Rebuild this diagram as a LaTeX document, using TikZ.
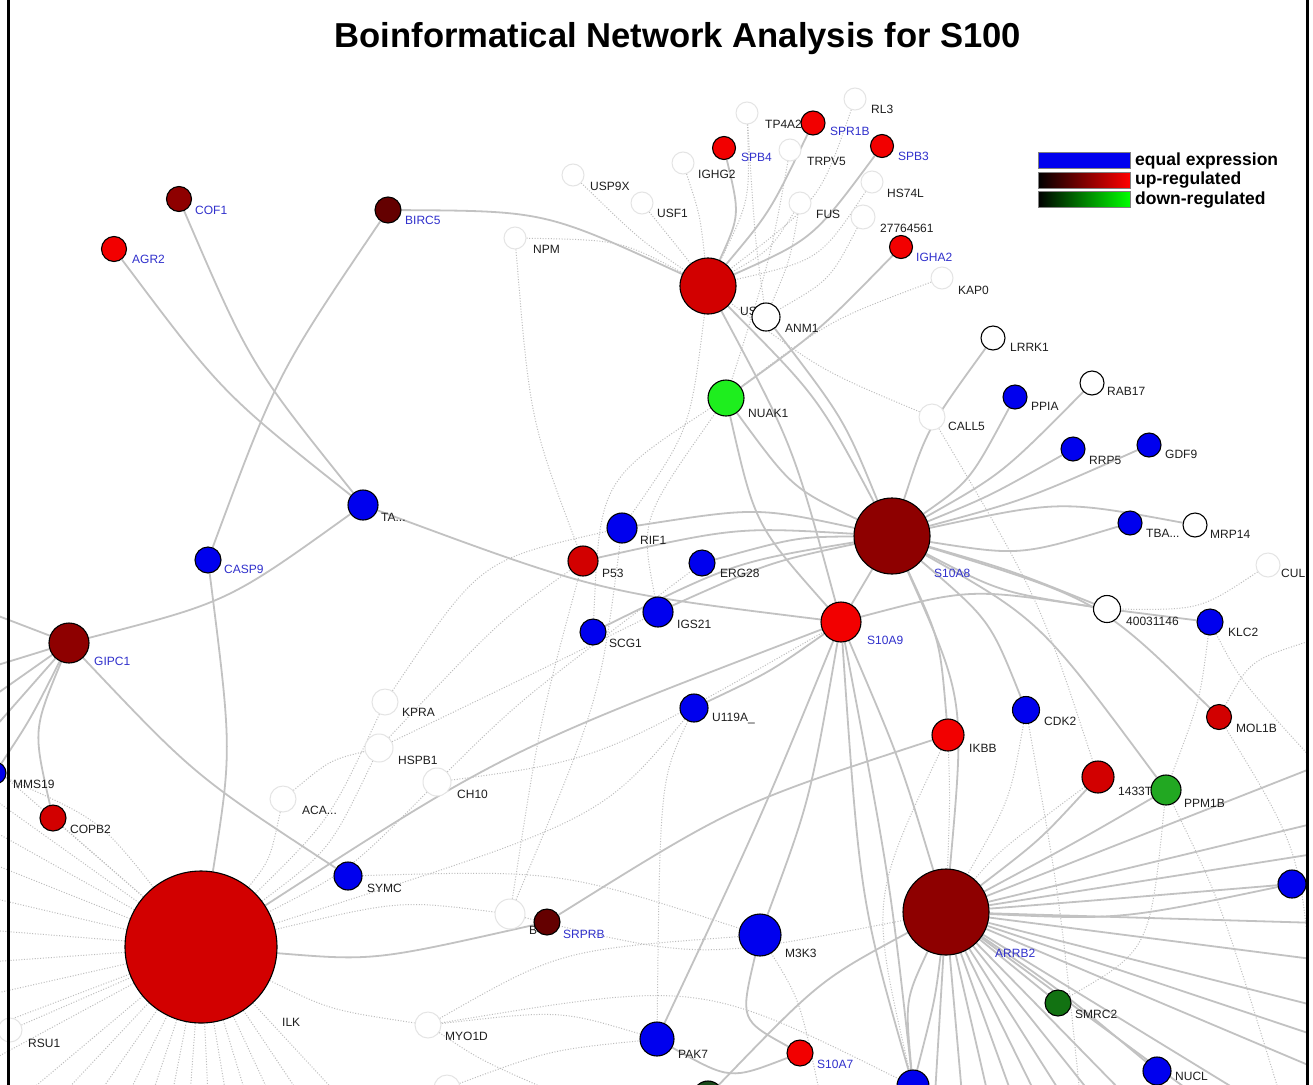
\documentclass[tikz,border=0pt]{standalone}
\usepackage{fontspec}
\setmainfont{Liberation Sans}
\usetikzlibrary{backgrounds}
\definecolor{cRed}{HTML}{F20000}
\definecolor{cRedB}{HTML}{D20000}
\definecolor{cDark}{HTML}{8E0000}
\definecolor{cDarker}{HTML}{640000}
\definecolor{cBlue}{HTML}{0000EE}
\definecolor{cGreen}{HTML}{1EEE1E}
\definecolor{cGreenM}{HTML}{22A822}
\definecolor{cGreenD}{HTML}{127212}
\definecolor{cGreenX}{HTML}{1A4A1A}
\definecolor{edgec}{HTML}{C2C2C2}
\definecolor{dotc}{HTML}{BDBDBD}
\definecolor{ghostc}{HTML}{E4E4E4}
\definecolor{lblc}{HTML}{1E1E1E}
\definecolor{lblue}{HTML}{3030CC}
\newcommand{\lbfont}{\fontsize{12}{13}\selectfont}
\begin{document}
\begin{tikzpicture}[x=1pt,y=-1pt,
  nd/.style 2 args={circle, draw=black, line width=1.1pt, fill=#2, minimum size=#1, inner sep=0pt},
  gh/.style={circle, draw=ghostc, line width=1pt, fill=white, minimum size=#1, inner sep=0pt},
  lb/.style={anchor=west, inner sep=0pt, font=\lbfont, text=lblc},
  bl/.style={lb, text=lblue},
  se/.style={draw=edgec, line width=1.8pt},
  de/.style={draw=dotc, line width=1pt, dash pattern=on 1pt off 1.7pt},
  lgbar/.style={rectangle, draw=gray, line width=0.6pt, minimum width=92pt, minimum height=16pt, inner sep=0pt},
  lgtxt/.style={anchor=base west, inner sep=0pt, font=\fontsize{17.5}{19}\selectfont\bfseries}]
\useasboundingbox (0,0) rectangle (1313,1084);

\begin{scope}
\clip (0,0) rectangle (1306,1084);
% ---------------- labels ----------------
\node[lb] (ltp4a2) at (765,124) {TP4A2};
\node[bl] (lspr1b) at (830,131) {SPR1B};
\node[lb] (lrl3) at (871,109) {RL3};
\node[bl] (lspb4) at (741,157) {SPB4};
\node[lb] (ltrpv5) at (807,161) {TRPV5};
\node[bl] (lspb3) at (898,156) {SPB3};
\node[lb] (lighg2) at (698,174) {IGHG2};
\node[lb] (lusp9x) at (590,186) {USP9X};
\node[lb] (lusf1) at (657,213) {USF1};
\node[lb] (lfus) at (816,214) {FUS};
\node[lb] (lhs74l) at (887,193) {HS74L};
\node[lb] (lg2776) at (880,228) {27764561};
\node[bl] (ligha2) at (916,257) {IGHA2};
\node[lb] (lkap0) at (958,290) {KAP0};
\node[lb] (lnpm) at (533,249) {NPM};
\node[lb] (lus) at (740,311) {US...};
\node[lb] (lanm1) at (785,328) {ANM1};
\node[lb] (lnuak1) at (748,413) {NUAK1};
\node[lb] (llrrk1) at (1010,347) {LRRK1};
\node[lb] (lcall5) at (948,426) {CALL5};
\node[lb] (lppia) at (1031,406) {PPIA};
\node[lb] (lrab17) at (1107,391) {RAB17};
\node[lb] (lrrp5) at (1089,460) {RRP5};
\node[lb] (lgdf9) at (1165,454) {GDF9};
\node[bl] (ls10a8) at (934,573) {S10A8};
\node[lb] (ltba) at (1146,533) {TBA...};
\node[lb] (lmrp14) at (1210,534) {MRP14};
\node[lb] (lcul) at (1281,573) {CUL};
\node[lb] (lg4003) at (1126,621) {40031146};
\node[lb] (lklc2) at (1228,632) {KLC2};
\node[lb] (lmol1b) at (1236,728) {MOL1B};
\node[lb] (lcdk2) at (1044,721) {CDK2};
\node[lb] (likbb) at (969,748) {IKBB};
\node[lb] (lg1433t) at (1118,791) {1433T};
\node[lb] (lppm1b) at (1184,803) {PPM1B};
\node[bl] (larrb2) at (995,953) {ARRB2};
\node[lb] (lsmrc2) at (1075,1014) {SMRC2};
\node[lb] (lnucl) at (1175,1076) {NUCL};
\node[bl] (ls10a9) at (867,640) {S10A9};
\node[lb] (lrif1) at (640,540) {RIF1};
\node[lb] (lp53) at (602,573) {P53};
\node[lb] (lerg28) at (720,573) {ERG28};
\node[lb] (ligs21) at (677,624) {IGS21};
\node[lb] (lscg1) at (609,643) {SCG1};
\node[lb] (lu119a) at (712,718) {U119A\_};
\node[lb] (lta) at (381,517) {TA...};
\node[bl] (lbirc5) at (405,220) {BIRC5};
\node[bl] (lcof1) at (195,210) {COF1};
\node[bl] (lagr2) at (132,259) {AGR2};
\node[bl] (lcasp9) at (224,569) {CASP9};
\node[bl] (lgipc1) at (94,661) {GIPC1};
\node[lb] (lmms19) at (13,784) {MMS19};
\node[lb] (lcopb2) at (70,829) {COPB2};
\node[lb] (lilk) at (282,1022) {ILK};
\node[lb] (lrsu1) at (28,1043) {RSU1};
\node[lb] (lsymc) at (367,888) {SYMC};
\node[lb] (lkpra) at (402,712) {KPRA};
\node[lb] (lhspb1) at (398,760) {HSPB1};
\node[lb] (lch10) at (457,794) {CH10};
\node[lb] (laca) at (302,810) {ACA...};
\node[lb] (lbghost) at (529,930) {B};
\node[bl] (lsrprb) at (563,934) {SRPRB};
\node[lb] (lm3k3) at (785,953) {M3K3};
\node[lb] (lmyo1d) at (445,1036) {MYO1D};
\node[lb] (lpak7) at (678,1054) {PAK7};
\node[bl] (ls10a7) at (817,1064) {S10A7};

% ---------------- nodes ----------------
\node[gh=22] (tp4a2) at (747,113) {};
\node[gh=22] (rl3) at (855,99) {};
\node[gh=22] (trpv5) at (790,150) {};
\node[gh=22] (ighg2) at (683,163) {};
\node[gh=22] (usp9x) at (573,175) {};
\node[gh=22] (usf1) at (642,203) {};
\node[gh=22] (fus) at (800,203) {};
\node[gh=22] (hs74l) at (872,182) {};
\node[gh=24] (g2776) at (863,217) {};
\node[gh=22] (kap0) at (942,278) {};
\node[gh=22] (npm) at (515,238) {};
\node[gh=26] (call5) at (932,417) {};
\node[gh=24] (cul) at (1268,565) {};
\node[gh=24] (rsu1) at (10,1030) {};
\node[gh=26] (kpra) at (385,702) {};
\node[gh=28] (hspb1) at (379,748) {};
\node[gh=28] (ch10) at (437,782) {};
\node[gh=26] (aca) at (283,799) {};
\node[gh=30] (bghost) at (510,914) {};
\node[gh=26] (myo1d) at (428,1025) {};
\node[gh=26] (bghost2) at (447,1088) {};

\node[nd={56}{cRedB}] (us) at (708,286) {};
\node[nd={24}{cRed}] (spr1b) at (813,123) {};
\node[nd={23}{cRed}] (spb4) at (724,148) {};
\node[nd={23}{cRed}] (spb3) at (882,146) {};
\node[nd={23}{cRed}] (igha2) at (901,247) {};
\node[nd={28}{white}] (anm1) at (766,317) {};
\node[nd={36}{cGreen}] (nuak1) at (726,398) {};
\node[nd={24}{white}] (lrrk1) at (993,338) {};
\node[nd={24}{cBlue}] (ppia) at (1015,397) {};
\node[nd={24}{white}] (rab17) at (1092,383) {};
\node[nd={24}{cBlue}] (rrp5) at (1073,449) {};
\node[nd={24}{cBlue}] (gdf9) at (1149,445) {};
\node[nd={76}{cDark}] (s10a8) at (892,536) {};
\node[nd={24}{cBlue}] (tba) at (1130,523) {};
\node[nd={24}{white}] (mrp14) at (1195,525) {};
\node[nd={27}{white}] (g4003) at (1107,609) {};
\node[nd={26}{cBlue}] (klc2) at (1210,622) {};
\node[nd={25}{cRedB}] (mol1b) at (1219,717) {};
\node[nd={27}{cBlue}] (cdk2) at (1026,710) {};
\node[nd={32}{cRed}] (ikbb) at (948,735) {};
\node[nd={32}{cRedB}] (g1433t) at (1098,777) {};
\node[nd={30}{cGreenM}] (ppm1b) at (1166,790) {};
\node[nd={86}{cDark}] (arrb2) at (946,912) {};
\node[nd={28}{cBlue}] (rblue) at (1292,884) {};
\node[nd={26}{cGreenD}] (smrc2) at (1058,1003) {};
\node[nd={28}{cBlue}] (nucl) at (1157,1071) {};
\node[nd={32}{cBlue}] (bblue) at (913,1086) {};
\node[nd={30}{cGreenX}] (bgreen) at (708,1096) {};
\node[nd={40}{cRed}] (s10a9) at (841,622) {};
\node[nd={30}{cBlue}] (rif1) at (622,528) {};
\node[nd={30}{cRedB}] (p53) at (583,561) {};
\node[nd={26}{cBlue}] (erg28) at (702,563) {};
\node[nd={30}{cBlue}] (igs21) at (658,612) {};
\node[nd={26}{cBlue}] (scg1) at (593,632) {};
\node[nd={28}{cBlue}] (u119a) at (694,708) {};
\node[nd={30}{cBlue}] (ta) at (363,505) {};
\node[nd={26}{cDarker}] (birc5) at (388,210) {};
\node[nd={25}{cDark}] (cof1) at (179,199) {};
\node[nd={25}{cRed}] (agr2) at (114,249) {};
\node[nd={26}{cBlue}] (casp9) at (208,560) {};
\node[nd={40}{cDark}] (gipc1) at (69,643) {};
\node[nd={22}{cBlue}] (mms19) at (-5,773) {};
\node[nd={26}{cRedB}] (copb2) at (53,818) {};
\node[nd={152}{cRedB}] (ilk) at (201,947) {};
\node[nd={28}{cBlue}] (symc) at (348,876) {};
\node[nd={26}{cDarker}] (srprb) at (547,922) {};
\node[nd={42}{cBlue}] (m3k3) at (760,935) {};
\node[nd={34}{cBlue}] (pak7) at (657,1039) {};
\node[nd={26}{cRed}] (s10a7) at (800,1053) {};
\end{scope}

% off-frame end points
\foreach \yy [count=\i] in {612,668,700,735} {\coordinate (gl\i) at (-12,\yy);}
\foreach \yy [count=\i] in {762,795,828,862,897,930,962,995,1028,1062} {\coordinate (fl\i) at (-12,\yy);}
\foreach \xx [count=\i] in {25,62,98,128,152,172,190,208,226,246,270,300,338} {\coordinate (fb\i) at (\xx,1095);}
\foreach \yy [count=\i] in {765,822,853,923,960,1007,1037,1070} {\coordinate (ar\i) at (1320,\yy);}
\foreach \xx [count=\i] in {935,962,988,1012,1036,1062,1092,1125,1195,1245} {\coordinate (ab\i) at (\xx,1095);}
\coordinate (cb1) at (1313,1000);
\coordinate (cb2) at (1280,1095);
\coordinate (cb3) at (1080,1095);
\coordinate (cb4) at (1313,640);
\coordinate (cb5) at (1313,760);
\coordinate (cb6) at (560,1095);
\coordinate (cb7) at (820,1095);

% ---------------- legend & title ----------------
\node[lgbar, fill=cBlue] (lg1) at (1084,160) {};
\node[lgbar, left color=black, right color=red] (lg2) at (1084,180) {};
\node[lgbar, left color=black, right color=green] (lg3) at (1084,199) {};
\node[lgtxt] (lt1) at (1135,165) {equal expression};
\node[lgtxt] (lt2) at (1135,184) {up-regulated};
\node[lgtxt] (lt3) at (1135,204) {down-regulated};
\node[anchor=base, inner sep=0pt, font=\fontsize{34.6}{40}\selectfont\bfseries] (title) at (678,47) {Boinformatical Network Analysis for S100};

% frame
\draw[line width=3pt] (8.5,-5) -- (8.5,1090);
\draw[line width=3pt] (1307.5,-5) -- (1307.5,1090);

% ---------------- edges ----------------
\begin{pgfonlayer}{background}
\fill[white] (0,0) rectangle (1313,1084);
\begin{scope}
\clip (0,0) rectangle (1306,1084);
% dotted edges
\draw[de] (usp9x) .. controls (640,240) .. (us);
\draw[de] (usf1) .. controls (680,250) .. (us);
\draw[de] (ighg2) .. controls (700,215) .. (us);
\draw[de] (tp4a2) .. controls (750,200) .. (us);
\draw[de] (tp4a2) .. controls (755,240) .. (anm1);
\draw[de] (trpv5) .. controls (770,260) .. (nuak1);
\draw[de] (rl3) .. controls (820,200) .. (us);
\draw[de] (fus) .. controls (770,250) .. (us);
\draw[de] (fus) .. controls (790,260) .. (anm1);
\draw[de] (hs74l) .. controls (820,260) .. (us);
\draw[de] (g2776) .. controls (830,280) .. (anm1);
\draw[de] (kap0) .. controls (830,320) .. (nuak1);
\draw[de] (npm) .. controls (620,240) .. (us);
\draw[de] (npm) .. controls (530,420) .. (p53);
\draw[de] (call5) .. controls (820,370) .. (us);
\draw[de] (call5) .. controls (1040,600) .. (g1433t);
\draw[de] (cul) .. controls (1200,610) .. (g4003);
\draw[de] (klc2) .. controls (1200,700) .. (ppm1b);
\draw[de] (klc2) .. controls (1240,680) .. (cb5);
\draw[de] (nuak1) .. controls (600,480) .. (scg1);
\draw[de] (nuak1) .. controls (640,520) .. (igs21);
\draw[de] (us) .. controls (690,430) .. (rif1);
\draw[de] (kpra) .. controls (480,560) .. (rif1);
\draw[de] (hspb1) .. controls (500,620) .. (p53);
\draw[de] (hspb1) .. controls (520,680) .. (igs21);
\draw[de] (ch10) .. controls (520,700) .. (erg28);
\draw[de] (ch10) .. controls (600,760) .. (s10a9);
\draw[de] (aca) .. controls (330,760) .. (hspb1);
\draw[de] (kpra) .. controls (330,820) .. (ilk);
\draw[de] (hspb1) .. controls (330,850) .. (ilk);
\draw[de] (ch10) .. controls (350,870) .. (ilk);
\draw[de] (aca) .. controls (270,860) .. (ilk);
\draw[de] (symc) .. controls (560,870) .. (m3k3);
\draw[de] (ilk) .. controls (330,1010) .. (myo1d);
\draw[de] (myo1d) .. controls (560,950) .. (m3k3);
\draw[de] (ilk) .. controls (400,900) .. (bghost);
\draw[de] (bghost) .. controls (540,720) .. (p53);
\draw[de] (bghost) .. controls (600,700) .. (rif1);
\draw[de] (bghost) .. controls (700,960) .. (arrb2);
\draw[de] (myo1d) .. controls (700,980) .. (bblue);
\draw[de] (myo1d) .. controls (480,1060) .. (cb6);
\draw[de] (ilk) .. controls (600,820) .. (u119a);
\draw[de] (u119a) .. controls (660,780) .. (pak7);
\draw[de] (pak7) .. controls (560,1010) .. (myo1d);
\draw[de] (bghost2) .. controls (550,1050) .. (pak7);
\draw[de] (m3k3) .. controls (800,1000) .. (cb7);
\draw[de] (ikbb) .. controls (950,800) .. (arrb2);
\draw[de] (cdk2) .. controls (1010,800) .. (arrb2);
\draw[de] (ikbb) .. controls (870,900) .. (bblue);
\draw[de] (g1433t) .. controls (1000,850) .. (arrb2);
\draw[de] (smrc2) .. controls (1150,950) .. (ppm1b);
\draw[de] (mol1b) .. controls (1300,850) .. (cb1);
\draw[de] (ppm1b) .. controls (1220,900) .. (cb2);
\draw[de] (cdk2) .. controls (1060,900) .. (cb3);
\draw[de] (mol1b) .. controls (1250,660) .. (cb4);
\draw[de] (rsu1) -- (ilk);
\draw[de] (copb2) -- (ilk);
\draw[de] (mms19) .. controls (100,820) .. (ilk);
\foreach \i in {1,...,10} {\draw[de] (ilk) -- (fl\i);}
\foreach \i in {1,...,13} {\draw[de] (ilk) -- (fb\i);}
% solid edges
\draw[se] (agr2) .. controls (222,393) .. (ta);
\draw[se] (cof1) .. controls (250,364) .. (ta);
\draw[se] (birc5) .. controls (277,374) .. (casp9);
\draw[se] (birc5) .. controls (545,211) .. (us);
\draw[se] (ta) .. controls (598,592) .. (s10a9);
\draw[se] (gipc1) .. controls (228,602) .. (ta);
\draw[se] (casp9) .. controls (232,750) .. (ilk);
\draw[se] (gipc1) .. controls (195,776) .. (symc);
\draw[se] (gipc1) .. controls (33,730) .. (copb2);
\draw[se] (gipc1) .. controls (30,720) .. (mms19);
\foreach \i in {1,...,4} {\draw[se] (gipc1) -- (gl\i);}
\draw[se] (ilk) .. controls (504,751) .. (s10a9);
\draw[se] (ilk) .. controls (374,961) .. (srprb);
\draw[se] (srprb) .. controls (736,804) .. (ikbb);
\draw[se] (u119a) .. controls (770,672) .. (s10a9);
\draw[se] (p53) .. controls (737,527) .. (s10a8);
\draw[se] (rif1) .. controls (757,507) .. (s10a8);
\draw[se] (erg28) .. controls (797,537) .. (s10a8);
\draw[se] (scg1) .. controls (735,562) .. (s10a8);
\draw[se] (igs21) .. controls (770,562) .. (s10a8);
\draw[se] (us) .. controls (793,445) .. (s10a9);
\draw[se] (us) .. controls (818,397) .. (s10a8);
\draw[se] (anm1) .. controls (844,419) .. (s10a8);
\draw[se] (nuak1) .. controls (792,488) .. (s10a8);
\draw[se] (nuak1) .. controls (755,525) .. (s10a9);
\draw[se] (nuak1) .. controls (820,330) .. (igha2);
\draw[se] (us) .. controls (740,215) .. (spb4);
\draw[se] (us) .. controls (770,212) .. (spr1b);
\draw[se] (us) .. controls (813,239) .. (spb3);
\draw[se] (s10a8) .. controls (927,429) .. (lrrk1);
\draw[se] (s10a8) .. controls (970,481) .. (ppia);
\draw[se] (s10a8) .. controls (1002,474) .. (rab17);
\draw[se] (s10a8) .. controls (990,496) .. (rrp5);
\draw[se] (s10a8) .. controls (1025,500) .. (gdf9);
\draw[se] (s10a8) .. controls (1020,556) .. (tba);
\draw[se] (s10a8) .. controls (1060,500) .. (mrp14);
\draw[se] (s10a8) .. controls (1010,570) .. (g4003);
\draw[se] (s10a8) .. controls (1000,592) .. (g4003);
\draw[se] (g4003) -- (klc2);
\draw[se] (s10a9) .. controls (970,588) .. (g4003);
\draw[se] (s10a8) .. controls (1100,600) .. (mol1b);
\draw[se] (s10a8) .. controls (990,620) .. (cdk2);
\draw[se] (s10a8) .. controls (1040,620) .. (ppm1b);
\draw[se] (s10a8) .. controls (940,640) .. (ikbb);
\draw[se] (s10a8) .. controls (965,700) .. (arrb2);
\draw[se] (s10a9) -- (s10a8);
\draw[se] (s10a9) .. controls (900,760) .. (arrb2);
\draw[se] (s10a9) .. controls (810,800) .. (m3k3);
\draw[se] (s10a9) .. controls (760,820) .. (pak7);
\draw[se] (s10a9) .. controls (860,900) .. (bblue);
\draw[se] (s10a9) .. controls (890,880) .. (bblue);
\draw[se] (m3k3) .. controls (740,1020) .. (s10a7);
\draw[se] (pak7) .. controls (730,1080) .. (s10a7);
\draw[se] (arrb2) .. controls (820,980) .. (bgreen);
\draw[se] (arrb2) .. controls (1040,840) .. (g1433t);
\draw[se] (arrb2) .. controls (1080,840) .. (ppm1b);
\draw[se] (arrb2) -- (smrc2);
\draw[se] (arrb2) .. controls (1060,990) .. (nucl);
\draw[se] (arrb2) .. controls (1100,900) .. (rblue);
\draw[se] (arrb2) .. controls (1120,920) .. (rblue);
\draw[se] (arrb2) .. controls (935,1000) .. (bblue);
\draw[se] (arrb2) .. controls (905,1000) .. (bblue);
\foreach \i in {1,...,8} {\draw[se] (arrb2) -- (ar\i);}
\foreach \i in {1,...,10} {\draw[se] (arrb2) -- (ab\i);}
\end{scope}
\end{pgfonlayer}
\end{tikzpicture}
\end{document}
